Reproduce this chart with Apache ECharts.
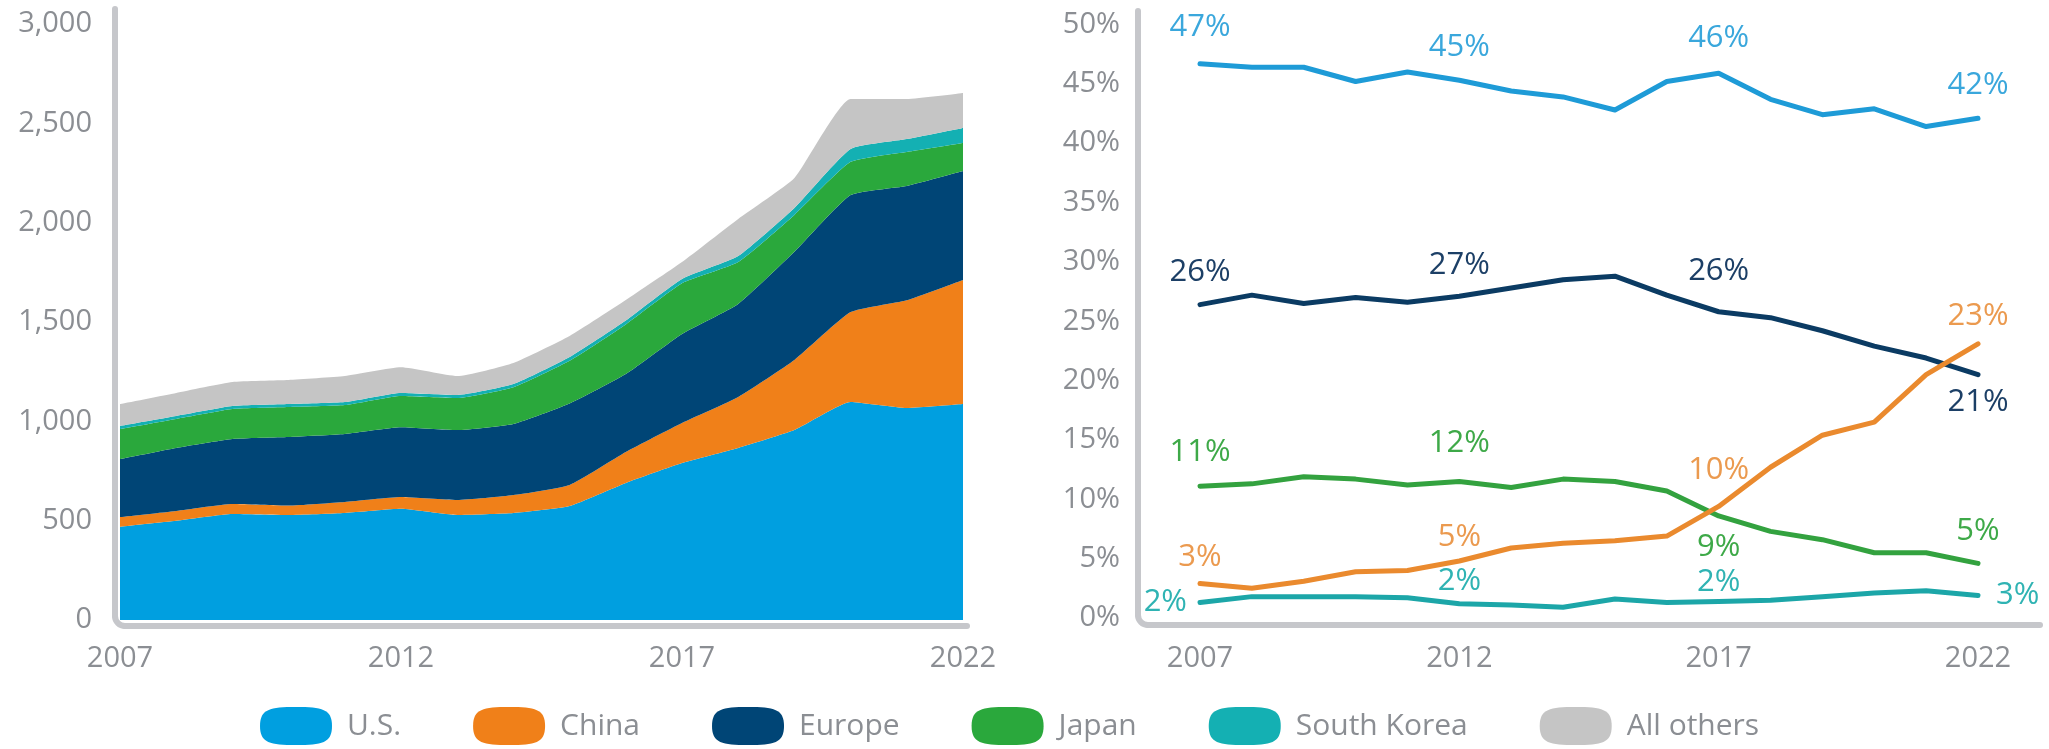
<!DOCTYPE html>
<html>
<head>
<meta charset="utf-8">
<script src="https://cdn.jsdelivr.net/npm/echarts@6/dist/echarts.min.js"></script>
<style>
  html, body { margin: 0; padding: 0; background: #fff; }
  #chart { width: 2049px; height: 749px; }
</style>
</head>
<body>
<div id="chart"></div>
<script>
// categories
const years = ['2007', '2008', '2009', '2010', '2011', '2012', '2013', '2014',
  '2015', '2016', '2017', '2018', '2019', '2020', '2021', '2022'];
const names = ['U.S.', 'China', 'Europe', 'Japan', 'South Korea', 'All others'];

// left: stacked values
const usVals     = [470, 500, 534, 529, 539, 560, 529, 539, 574, 690, 790, 866, 956, 1097, 1067, 1087];
const chinaVals  = [48, 49, 50, 47, 55, 59, 75, 90, 106, 156, 202, 257, 353, 453, 543, 625];
const europeVals = [292, 317, 327, 345, 342, 351, 352, 358, 410, 392, 448, 468, 544, 589, 575, 548];
const japanVals  = [151, 146, 151, 151, 146, 158, 162, 185, 215, 250, 255, 211, 186, 167, 171, 141];
const koreaVals  = [16, 15, 15, 15, 15, 15, 15, 16, 19, 20, 22, 30, 35, 65, 65, 76];
const othersVals = [110, 116, 121, 121, 131, 129, 95, 106, 106, 103, 85, 187, 151, 252, 202, 176];

// right: shares (%)
const usPct     = [46.7, 46.4, 46.4, 45.2, 46.0, 45.3, 44.4, 43.9, 42.8, 45.2, 45.9, 43.7, 42.4, 42.9, 41.4, 42.1];
const chinaPct  = [2.9, 2.5, 3.1, 3.9, 4.0, 4.8, 5.9, 6.3, 6.5, 6.9, 9.4, 12.7, 15.4, 16.5, 20.5, 23.1];
const europePct = [26.4, 27.2, 26.5, 27.0, 26.6, 27.1, 27.8, 28.5, 28.8, 27.2, 25.8, 25.3, 24.2, 22.9, 21.9, 20.5];
const japanPct  = [11.1, 11.3, 11.9, 11.7, 11.2, 11.5, 11.0, 11.7, 11.5, 10.7, 8.6, 7.3, 6.6, 5.5, 5.5, 4.6];
const koreaPct  = [1.3, 1.8, 1.8, 1.8, 1.7, 1.2, 1.1, 0.9, 1.6, 1.3, 1.4, 1.5, 1.8, 2.1, 2.3, 1.9];

// label texts on the share lines
const usLabels     = ['47%', '', '', '', '', '45%', '', '', '', '', '46%', '', '', '', '', '42%'];
const chinaLabels  = ['3%', '', '', '', '', '5%', '', '', '', '', '10%', '', '', '', '', '23%'];
const europeLabels = ['26%', '', '', '', '', '27%', '', '', '', '', '26%', '', '', '', '', '21%'];
const japanLabels  = ['11%', '', '', '', '', '12%', '', '', '', '', '9%', '', '', '', '', '5%'];
const koreaLabels  = ['2%', '', '', '', '', '2%', '', '', '', '', '2%', '', '', '', '', '3%'];

const leftTicks = [0, 500, 1000, 1500, 2000, 2500, 3000];
const rightTicks = [0, 5, 10, 15, 20, 25, 30, 35, 40, 45, 50];

const areaColors = ['#009fe0', '#f08019', '#004576', '#2aa83c', '#14b0b3', '#c5c5c5'];
const lineColors = ['#1e9bd7', '#ea8a2e', '#0b3b63', '#33a23f', '#1ca6a8'];
const labelColors = ['#3aa7dc', '#eb9a4f', '#1c3f66', '#3ea948', '#2fb3b3'];
const FONT = '"Open Sans", sans-serif';
const GREY = '#8b8e93';
const FRAME = '#c6c7cb';

const L = { left: 120, top: 24, width: 843, height: 596 };
const R = { left: 1200, top: 24.5, width: 778, height: 593.5 };

// per point label placement: [position, distance] for the labelled points
const spots = [
  [['top', 21], ['top', 18], ['top', 19], ['top', 18]],
  [['top', 11], ['top', 8], ['top', 21], ['top', 12]],
  [['top', 17], ['top', 16], ['top', 25], ['bottom', 12]],
  [['top', 19], ['top', 23], ['bottom', 16], ['top', 17]],
  [['left', 13], ['top', 7], ['top', 4], ['right', 18]]
];

const stackVals = [usVals, chinaVals, europeVals, japanVals, koreaVals, othersVals];
const pctVals = [usPct, chinaPct, europePct, japanPct, koreaPct];
const pctLabels = [usLabels, chinaLabels, europeLabels, japanLabels, koreaLabels];

const series = [];
stackVals.forEach(function (vals, i) {
  series.push({
    name: names[i],
    type: 'line',
    xAxisIndex: 0,
    yAxisIndex: 0,
    stack: 'total',
    smooth: 0.15,
    symbol: 'none',
    lineStyle: { width: 0 },
    areaStyle: { color: areaColors[i], opacity: 1 },
    itemStyle: { color: areaColors[i] },
    data: vals
  });
});
pctVals.forEach(function (vals, i) {
  let k = 0;
  const data = vals.map(function (v, j) {
    if (!pctLabels[i][j]) return v;
    const s = spots[i][k++];
    return {
      value: v,
      label: {
        show: true,
        formatter: pctLabels[i][j],
        position: s[0],
        distance: s[1]
      }
    };
  });
  series.push({
    name: names[i],
    type: 'line',
    xAxisIndex: 1,
    yAxisIndex: 1,
    symbol: 'circle',
    symbolSize: 0,
    showSymbol: true,
    lineStyle: { width: 5, color: lineColors[i], cap: 'round', join: 'round' },
    itemStyle: { color: lineColors[i] },
    label: { show: false, color: labelColors[i], fontSize: 31, fontFamily: FONT },
    z: i == 1 ? 3 : 2,
    data: data
  });
});

function frame(x0, yTop, yBase, xEnd) {
  const r = 10;
  const st = { stroke: FRAME, lineWidth: 6, lineCap: 'round', fill: null };
  return [
    { type: 'line', shape: { x1: x0, y1: yTop, x2: x0, y2: yBase - r }, style: st, silent: true },
    { type: 'arc', shape: { cx: x0 + r, cy: yBase - r, r: r, startAngle: Math.PI / 2, endAngle: Math.PI, clockwise: true }, style: st, silent: true },
    { type: 'line', shape: { x1: x0 + r, y1: yBase, x2: xEnd, y2: yBase }, style: st, silent: true }
  ];
}

const option = {
  animation: false,
  backgroundColor: '#fff',
  textStyle: { fontFamily: FONT },
  grid: [
    { left: L.left, top: L.top, width: L.width, height: L.height },
    { left: R.left, top: R.top, width: R.width, height: R.height }
  ],
  legend: {
    data: names,
    left: 255,
    top: 702,
    itemWidth: 72,
    itemHeight: 38,
    itemGap: 72,
    symbolKeepAspect: false,
    icon: 'path://M0,19 C0,2 10,0 36,0 C62,0 72,2 72,19 C72,36 62,38 36,38 C10,38 0,36 0,19 Z',
    textStyle: { color: GREY, fontSize: 30, fontFamily: FONT, padding: [0, 0, 0, 10] },
    selectedMode: false
  },
  xAxis: [
    {
      type: 'category', gridIndex: 0, data: years, boundaryGap: false,
      axisLine: { show: false }, axisTick: { show: false },
      axisLabel: { interval: 4, color: GREY, fontSize: 29, margin: 24, fontFamily: FONT }
    },
    {
      type: 'category', gridIndex: 1, data: years, boundaryGap: false,
      axisLine: { show: false }, axisTick: { show: false },
      axisLabel: { interval: 4, color: GREY, fontSize: 29, margin: 26, fontFamily: FONT }
    }
  ],
  yAxis: [
    {
      type: 'value', gridIndex: 0,
      min: leftTicks[0], max: leftTicks[leftTicks.length - 1], interval: 500,
      splitLine: { show: false }, axisLine: { show: false }, axisTick: { show: false },
      axisLabel: {
        color: GREY, fontSize: 29, margin: 28, fontFamily: FONT,
        formatter: function (v) { return v.toLocaleString('en-US'); }
      }
    },
    {
      type: 'value', gridIndex: 1,
      min: rightTicks[0], max: rightTicks[rightTicks.length - 1], interval: 5,
      splitLine: { show: false }, axisLine: { show: false }, axisTick: { show: false },
      axisLabel: { color: GREY, fontSize: 29, margin: 80, fontFamily: FONT, formatter: '{value}%' }
    }
  ],
  graphic: frame(115, 9, 626, 967).concat(frame(1138, 11, 625, 2040)),
  series: series
};

const myChart = echarts.init(document.getElementById('chart'));
myChart.setOption(option);
window.addEventListener('resize', function () { myChart.resize(); });
</script>
</body>
</html>
